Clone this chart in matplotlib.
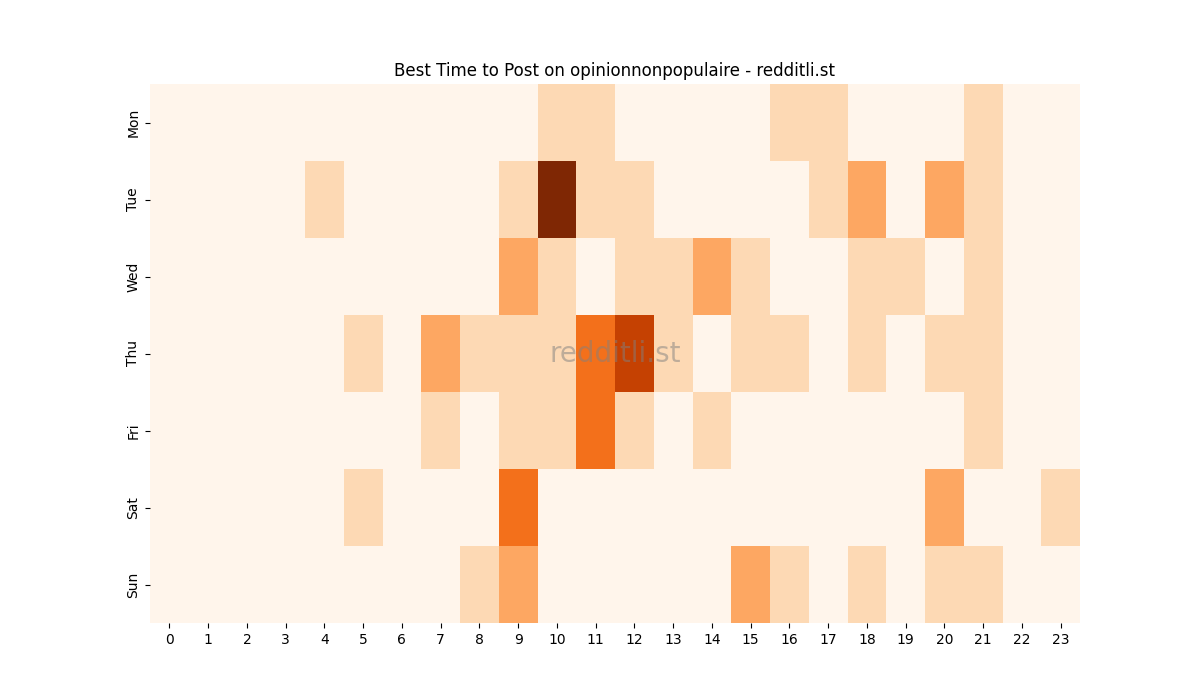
import numpy as np
import matplotlib
matplotlib.use("Agg")
import matplotlib.pyplot as plt

days = ["Mon", "Tue", "Wed", "Thu", "Fri", "Sat", "Sun"]
hours = list(range(24))

# post activity per hour (0-23), one list per day
mon = [0, 0, 0, 0, 0, 0, 0, 0, 0, 0, 1, 1, 0, 0, 0, 0, 1, 1, 0, 0, 0, 1, 0, 0]
tue = [0, 0, 0, 0, 1, 0, 0, 0, 0, 1, 5, 1, 1, 0, 0, 0, 0, 1, 2, 0, 2, 1, 0, 0]
wed = [0, 0, 0, 0, 0, 0, 0, 0, 0, 2, 1, 0, 1, 1, 2, 1, 0, 0, 1, 1, 0, 1, 0, 0]
thu = [0, 0, 0, 0, 0, 1, 0, 2, 1, 1, 1, 3, 4, 1, 0, 1, 1, 0, 1, 0, 1, 1, 0, 0]
fri = [0, 0, 0, 0, 0, 0, 0, 1, 0, 1, 1, 3, 1, 0, 1, 0, 0, 0, 0, 0, 0, 1, 0, 0]
sat = [0, 0, 0, 0, 0, 1, 0, 0, 0, 3, 0, 0, 0, 0, 0, 0, 0, 0, 0, 0, 2, 0, 0, 1]
sun = [0, 0, 0, 0, 0, 0, 0, 0, 1, 2, 0, 0, 0, 0, 0, 2, 1, 0, 1, 0, 1, 1, 0, 0]

grid = np.array([mon, tue, wed, thu, fri, sat, sun])

fig, ax = plt.subplots(figsize=(12, 7), dpi=100)
ax.pcolormesh(grid, cmap="Oranges", vmin=0, vmax=grid.max())
ax.set_xlim(0, len(hours))
ax.set_ylim(len(days), 0)

ax.set_xticks(np.arange(len(hours)) + 0.5)
ax.set_xticklabels([str(h) for h in hours])
ax.set_yticks(np.arange(len(days)) + 0.5)
ax.set_yticklabels(days, rotation=90, va="center")
for s in ax.spines.values():
    s.set_visible(False)

ax.set_title("Best Time to Post on opinionnonpopulaire - redditli.st")
ax.text(0.5, 0.5, "redditli.st", transform=ax.transAxes, ha="center",
        va="center", fontsize=20, color="gray", alpha=0.5)

fig.savefig("out.png", dpi=100)
